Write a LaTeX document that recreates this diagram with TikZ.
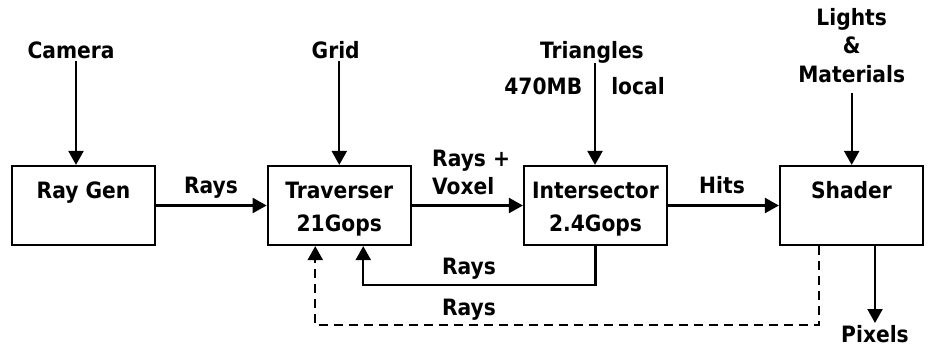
\documentclass[tikz,border=0pt]{standalone}
\usepackage{fontspec}
\setmainfont{DejaVu Sans Condensed Bold}
\usetikzlibrary{arrows.meta, positioning}

\newcommand\lowstrut{\rule[-4.5pt]{0pt}{4.5pt}}

\tikzset{
  blk/.style={draw, line width=2.2pt, minimum width=143pt, minimum height=79pt,
    align=center, inner sep=0pt, font=\fontsize{22.5}{33}\selectfont},
  lbl/.style={align=center, inner sep=2pt, font=\fontsize{22.5}{28.8}\selectfont},
  arr/.style={line width=2.2pt, -{Triangle[length=14pt, width=15pt]}},
  feed/.style={arr, dash pattern=on 9pt off 6pt}
}

\begin{document}
\begin{tikzpicture}[x=1pt, y=-1pt]
\useasboundingbox (0,0) rectangle (931,347);

% the four stages
\node[blk] (raygen)      at (83.5,205.5)  {\strut Ray Gen\\\lowstrut};
\node[blk] (traverser)   at (339.25,205.5) {\strut Traverser\\\lowstrut 21Gops};
\node[blk] (intersector) at (595.5,205.5)  {\strut Intersector\\\lowstrut 2.4Gops};
\node[blk] (shader)      at (851.5,205.5)  {\strut Shader\\\lowstrut};

% inputs from above
\node[lbl, anchor=base] (camera)    at (71,58.3)    {Camera};
\node[lbl, anchor=base] (grid)      at (335.7,58.3) {Grid};
\node[lbl, anchor=base] (triangles) at (592,58.3)   {Triangles};
\node[lbl, anchor=base] (mem)       at (543.3,95)   {470MB};
\node[lbl, anchor=base] (loc)       at (638,95)     {local};
\node[lbl, anchor=base] (lights)    at (851.7,82.7) {Lights\\\&\\Materials};
\node[lbl, anchor=north] (pixels)   at (875,323)    {Pixels};

% labels on the links
\node[lbl, anchor=base] (l1) at (211,194)   {Rays};
\node[lbl, align=left, anchor=base west] (l2) at (430,195) {Rays +\\Voxel};
\node[lbl, anchor=base] (l3) at (722,194)   {Hits};
\node[lbl, anchor=base] (l4) at (469,275)   {Rays};
\node[lbl, anchor=base] (l5) at (469,315.7) {Rays};

\draw[arr] ([xshift=5pt]camera.south) -- ([xshift=5pt]camera.south |- raygen.north);
\draw[arr] ([xshift=3.6pt]grid.south) -- ([xshift=3.6pt]grid.south |- traverser.north);
\draw[arr] ([xshift=3pt,yshift=2pt]triangles.south) -- ([xshift=3pt]triangles.south |- intersector.north);
\draw[arr] ([yshift=-8pt]lights.south) -- (lights.south |- shader.north);

\draw[arr] (raygen) -- (traverser);
\draw[arr] (traverser) -- (intersector);
\draw[arr] (intersector) -- (shader);

\draw[arr] (intersector.south) -- ++(0,39) -| ([xshift=24pt]traverser.south);
\draw[feed] ([xshift=-32.5pt]shader.south) -- ++(0,79) -| ([xshift=-24pt]traverser.south);
\draw[arr] ([xshift=23.5pt]shader.south) -- (pixels.north);
\end{tikzpicture}
\end{document}
